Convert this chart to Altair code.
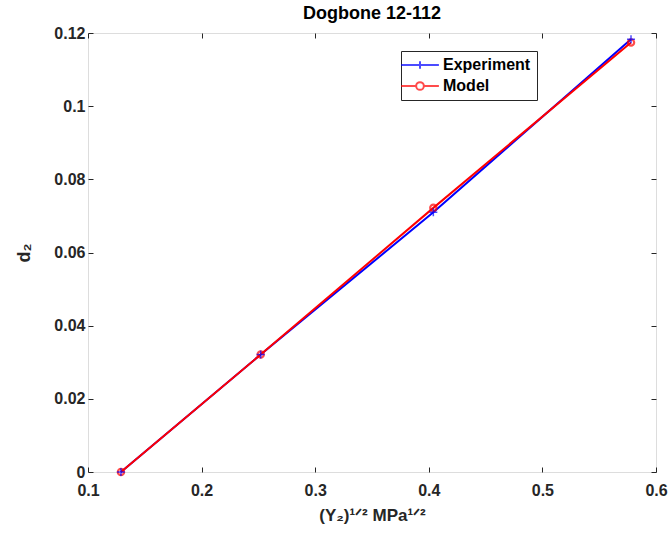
import altair as alt
import pandas as pd

x_vals = [0.129, 0.252, 0.404, 0.578]
exp_y = [0.0, 0.0321, 0.0710, 0.1183]
model_y = [0.0, 0.0321, 0.0722, 0.1174]
series_names = ["Experiment", "Model"]
series_colors = ["#0000ff", "#ff0000"]
x_ticks = [0.1, 0.2, 0.3, 0.4, 0.5, 0.6]
y_ticks = [0, 0.02, 0.04, 0.06, 0.08, 0.1, 0.12]

rows = []
for xv, yv in zip(x_vals, exp_y):
    rows.append({"x": xv, "y": yv, "series": "Experiment"})
for xv, yv in zip(x_vals, model_y):
    rows.append({"x": xv, "y": yv, "series": "Model"})
df = pd.DataFrame(rows)

FONT = "Liberation Sans"
AX = "#262626"
T = 5
LFS = 16

xscale = alt.Scale(domain=[0.1, 0.6], nice=False, zero=False)
yscale = alt.Scale(domain=[0, 0.12], nice=False, zero=False)

common = dict(domain=False, grid=False, tickSize=T, offset=-T, tickColor=AX, tickWidth=1)

x_axis = alt.Axis(values=x_ticks, title="(Y₂)¹ᐟ² MPa¹ᐟ²", labelFlush=False,
                  labelPadding=10, labelFontSize=LFS, labelFontWeight="bold",
                  labelColor=AX, labelFont=FONT, titleFont=FONT, titleFontSize=17,
                  titleFontWeight="bold", titleColor=AX, titlePadding=9,
                  labelExpr="format(datum.value, '.1f')", **common)
y_axis = alt.Axis(values=y_ticks, title="d₂", labelPadding=3,
                  labelFontSize=LFS, labelFontWeight="bold", labelColor=AX,
                  labelFont=FONT, titleFont=FONT, titleFontSize=18,
                  titleFontWeight="bold", titleColor=AX, titlePadding=20,
                  labelExpr="datum.value == 0 ? '0' : format(datum.value, '~g')", **common)
x_top = alt.Axis(values=x_ticks, orient="top", labels=False, title=None, **common)
y_right = alt.Axis(values=y_ticks, orient="right", labels=False, title=None, **common)

base = alt.Chart(df)

def sel(name):
    return alt.datum.series == name

line_exp = base.transform_filter(sel("Experiment")).mark_line(
    color=series_colors[0], strokeWidth=2).encode(
    x=alt.X("x:Q", scale=xscale, axis=x_axis),
    y=alt.Y("y:Q", scale=yscale, axis=y_axis))
line_mod = base.transform_filter(sel("Model")).mark_line(
    color=series_colors[1], strokeWidth=2).encode(
    x=alt.X("x:Q", scale=xscale, axis=x_top),
    y=alt.Y("y:Q", scale=yscale, axis=y_right))
pts_mod = base.transform_filter(sel("Model")).mark_point(
    shape="circle", filled=False, color=series_colors[1], strokeWidth=2.2,
    size=40).encode(x=alt.X("x:Q", scale=xscale, axis=None),
                    y=alt.Y("y:Q", scale=yscale, axis=None))
pts_exp = base.transform_filter(sel("Experiment")).mark_point(
    shape="M-1,0H1M0,-1V1", filled=False, color=series_colors[0],
    strokeWidth=1.5, size=64).encode(x=alt.X("x:Q", scale=xscale, axis=None),
                                     y=alt.Y("y:Q", scale=yscale, axis=None))

leg_paths = [
    "M-2.7,0H2.7M0,-0.55V0.55",
    "M-2.7,0H-0.55M0.55,0H2.7M-0.55,0A0.55,0.55 0 1,1 0.55,0A0.55,0.55 0 1,1 -0.55,0",
]
leg_props = dict(title=None, orient="none", legendX=313, legendY=18,
                 symbolSize=196, symbolStrokeWidth=2, symbolOffset=5,
                 labelFont=FONT, labelFontSize=16, labelFontWeight="bold",
                 labelColor="#000000", labelOffset=15, padding=6, rowPadding=5,
                 strokeColor=AX, fillColor="white")
legend_layer = base.transform_filter("false").mark_point(
    filled=False, strokeWidth=2).encode(
    x=alt.X("x:Q", scale=xscale, axis=None),
    y=alt.Y("y:Q", scale=yscale, axis=None),
    color=alt.Color("series:N", scale=alt.Scale(domain=series_names, range=series_colors),
                    legend=alt.Legend(**leg_props)),
    shape=alt.Shape("series:N", scale=alt.Scale(domain=series_names, range=leg_paths),
                    legend=alt.Legend(**leg_props)),
)

chart = alt.layer(line_exp, line_mod, pts_mod, pts_exp, legend_layer).resolve_axis(
    x="independent", y="independent").properties(
    width=568, height=439,
    title=alt.TitleParams("Dogbone 12-112", font=FONT, fontSize=18, fontWeight="bold",
                          color="#000000", offset=2, anchor="middle"),
    autosize=alt.AutoSizeParams(type="none"),
    padding={"left": 88, "top": 33, "right": 15, "bottom": 72},
).configure_view(stroke=AX, strokeWidth=1.5).configure(background="white")

chart.save("out.html", embed_options={"renderer": "svg", "actions": False})
